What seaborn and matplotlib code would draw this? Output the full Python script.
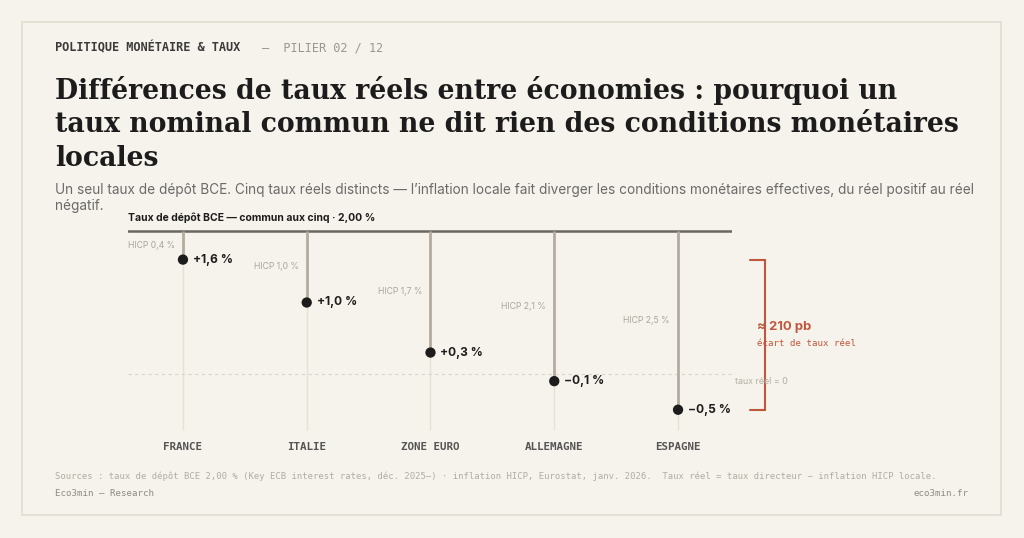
import numpy as np
import pandas as pd
import matplotlib.pyplot as plt
from matplotlib.patches import Rectangle
import seaborn as sns

# données
pays = ['FRANCE', 'ITALIE', 'ZONE EURO', 'ALLEMAGNE', 'ESPAGNE']
hicp = [0.4, 1.0, 1.7, 2.1, 2.5]
taux_reel = [1.6, 1.0, 0.3, -0.1, -0.5]
taux_depot = 2.0

df = pd.DataFrame({'pays': pays, 'hicp': hicp, 'reel': taux_reel})
df['pos'] = np.arange(len(df))

BG = '#f6f3ec'
INK = '#1c1c1c'
RUST = '#c0573c'

sns.set_theme(style='white')
plt.rcParams['font.family'] = ['Inter', 'DejaVu Sans']

W, H = 1024, 538
fig = plt.figure(figsize=(W / 100, H / 100), dpi=100, facecolor=BG)

def px(x, y):
    return x / W, 1 - y / H

# cadre
fig.patches.append(Rectangle(px(22, 515), 979 / W, 493 / H, transform=fig.transFigure,
                             fill=False, edgecolor='#e2ddd0', linewidth=1.2))

# en-tête
fig.text(*px(55, 48), 'POLITIQUE MONÉTAIRE & TAUX', family='DejaVu Sans Mono',
         fontsize=8.6, fontweight='bold', color='#3a3a3a', va='center')
fig.text(*px(262, 48), '—  PILIER 02 / 12', family='DejaVu Sans Mono',
         fontsize=8.6, color='#9a968d', va='center')

titre = ('Différences de taux réels entre économies : pourquoi un\n'
         'taux nominal commun ne dit rien des conditions monétaires\n'
         'locales')
fig.text(*px(55, 76), titre, family=['DejaVu Serif'], fontsize=19.2,
         fontweight='bold', color=INK, va='top', linespacing=1.3)

fig.text(*px(55, 183), 'Un seul taux de dépôt BCE. Cinq taux réels distincts — l’inflation locale '
         'fait diverger les conditions monétaires effectives, du réel positif au réel\nnégatif.',
         fontsize=9.8, color='#6a6a6a', va='top', linespacing=1.2)

# zone du graphique
x0, x1, ytop, ybot = 128, 732, 225, 460
ax = fig.add_axes([x0 / W, 1 - ybot / H, (x1 - x0) / W, (ybot - ytop) / H])
ax.set_facecolor('none')
ax.set_xlim(-0.444, 4.436)
ax.set_ylim(-1.203, 2.084)
ax.axis('off')

# taux commun
ax.axhline(taux_depot, color='#6b6760', linewidth=1.8)
ax.text(-0.444, taux_depot + 0.11, 'Taux de dépôt BCE — commun aux cinq · 2,00 %',
        fontsize=7.5, fontweight='bold', color=INK, va='bottom')

# ligne zéro
ax.plot([-0.444, 4.436], [0, 0], color='#d9d4c8', linewidth=0.8, linestyle=(0, (3, 3)))
ax.text(4.46, -0.11, 'taux réel = 0', fontsize=6.4, color='#b3afa6', va='center')

# tiges
ax.vlines(df['pos'], -0.78, df['reel'], color='#e6e1d5', linewidth=1.0, zorder=1)
ax.vlines(df['pos'], df['reel'], taux_depot, color='#b3ac9f', linewidth=2.0, zorder=2)

sns.scatterplot(data=df, x='pos', y='reel', s=55, color=INK, edgecolor='none',
                ax=ax, zorder=4, legend=False)
ax.axis('off')

for _, r in df.iterrows():
    ax.text(r['pos'] + 0.08, r['reel'], f"{r['reel']:+.1f} %".replace('.', ',').replace('-', '−'),
            fontsize=8.6, fontweight='bold', color=INK, va='center')
    ax.text(r['pos'] - 0.065, (taux_depot + r['reel']) / 2, f"HICP {r['hicp']:.1f} %".replace('.', ','),
            fontsize=6.2, color='#a9a59c', va='center', ha='right')
    ax.text(r['pos'], -1.02, r['pays'], family='DejaVu Sans Mono', fontsize=7.8,
            fontweight='bold', color='#555555', ha='center', va='center')

# accolade de l'écart
ecart = max(taux_reel) - min(taux_reel)
bx, bt = 4.703, 4.582
ax.plot([bt, bx, bx, bt], [max(taux_reel), max(taux_reel), min(taux_reel), min(taux_reel)],
        color=RUST, linewidth=1.5, clip_on=False, solid_joinstyle='miter')
ax.text(4.64, 0.66, f'≈ {ecart * 100:.0f} pb', fontsize=9.4, fontweight='bold', color=RUST,
        va='center')
ax.text(4.64, 0.42, 'écart de taux réel', family='DejaVu Sans Mono', fontsize=6.6,
        color=RUST, va='center')

# pied de page
fig.text(*px(55, 476), 'Sources : taux de dépôt BCE 2,00 % (Key ECB interest rates, déc. 2025–) · '
         'inflation HICP, Eurostat, janv. 2026.  Taux réel = taux directeur − inflation HICP locale.',
         family='DejaVu Sans Mono', fontsize=6.4, color='#b0aca3', va='center')
fig.text(*px(55, 493), 'Eco3min — Research', family='DejaVu Sans Mono', fontsize=6.6,
         color='#8f8b83', va='center')
fig.text(*px(968, 493), 'eco3min.fr', family='DejaVu Sans Mono', fontsize=6.6,
         color='#8f8b83', va='center', ha='right')

fig.savefig('out.png', dpi=100, facecolor=BG)
